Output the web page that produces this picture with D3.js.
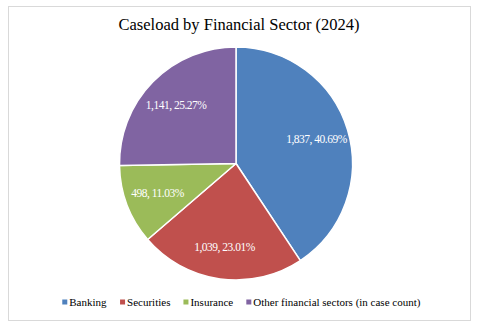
<!DOCTYPE html>
<html><head><meta charset="utf-8">
<script src="https://cdn.jsdelivr.net/npm/d3@7"></script>
<style>html,body{margin:0;padding:0;background:#fff;}svg{display:block;}</style>
</head><body>
<svg id="c" width="480" height="331"></svg>
<script>
const categories = ["Banking", "Securities", "Insurance", "Other financial sectors (in case count)"];
const values = [1837, 1039, 498, 1141];
const percentLabels = ["40.69%", "23.01%", "11.03%", "25.27%"];
const colors = ["#4F81BD", "#C0504D", "#9BBB59", "#8064A2"];
const title = "Caseload by Financial Sector (2024)";

const FONT = '"Liberation Serif"';
const svg = d3.select("#c");

svg.append("rect").attr("x", 8.5).attr("y", 6.5).attr("width", 462).attr("height", 314)
  .attr("fill", "#fff").attr("stroke", "#d9d9d9").attr("stroke-width", 1);

svg.append("text").attr("x", 239).attr("y", 30).attr("text-anchor", "middle")
  .style("font-family", FONT).style("font-size", "16.5px").attr("fill", "#000").text(title);

const cx = 236, cy = 163.5, R = 116.5;
const g = svg.append("g").attr("transform", `translate(${cx},${cy})`);
const pie = d3.pie().sort(null).value(d => d)(values);
const arc = d3.arc().innerRadius(0).outerRadius(R);
const labelArc = d3.arc().innerRadius(84).outerRadius(84);

g.selectAll("path").data(pie).join("path")
  .attr("d", arc).attr("fill", (d, i) => colors[i])
  .attr("stroke", "#fff").attr("stroke-width", 1.5).attr("stroke-linejoin", "round");

const fmt = d3.format(",");
g.selectAll("text.lbl").data(pie).join("text").attr("class", "lbl")
  .attr("transform", d => `translate(${labelArc.centroid(d)})`)
  .attr("text-anchor", "middle").attr("dominant-baseline", "central")
  .style("font-family", FONT).style("font-size", "11.5px").style("letter-spacing", "-0.5px").attr("fill", "#fff")
  .text((d, i) => `${fmt(d.data)}, ${percentLabels[i]}`);

// legend
const legend = svg.append("g").attr("transform", "translate(0,302)");
const items = legend.selectAll("g").data(categories).join("g");
items.append("rect").attr("width", 5).attr("height", 5).attr("y", -2.5)
  .attr("fill", (d, i) => colors[i]);
items.append("text").attr("x", 7).attr("dominant-baseline", "central")
  .style("font-family", FONT).style("font-size", "11px").attr("fill", "#000").text(d => d);
let xpos = 0; const gap = 13; const widths = [];
items.each(function () { widths.push(this.getBBox().width); });
const total = d3.sum(widths) + gap * (widths.length - 1);
xpos = 241.5 - total / 2;
items.attr("transform", (d, i) => { const t = `translate(${xpos},0)`; xpos += widths[i] + gap; return t; });
</script>
</body></html>
